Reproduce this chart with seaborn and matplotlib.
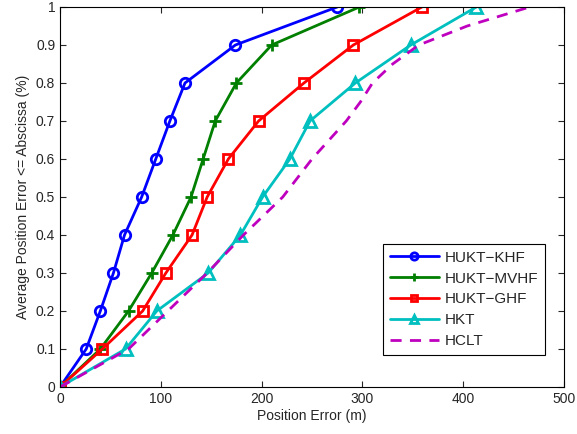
import numpy as np
import pandas as pd
import matplotlib
matplotlib.use("Agg")
import matplotlib.pyplot as plt
import seaborn as sns

levels = [0, 0.1, 0.2, 0.3, 0.4, 0.5, 0.6, 0.7, 0.8, 0.9, 1.0]
khf = [0, 26, 40, 53, 64, 81, 95, 109, 124, 174, 275]
mvhf = [0, 40, 68, 91, 112, 130, 142, 154, 175, 210, 297]
ghf = [0, 42, 82, 105, 131, 146, 167, 197, 242, 291, 359]
hkt = [0, 65, 96, 147, 179, 201, 228, 248, 293, 348, 413]
hclt_y = [0, 0.1, 0.2, 0.3, 0.4, 0.5, 0.6, 0.7, 0.75, 0.8, 0.85, 0.9, 0.95, 1.0]
hclt_x = [0, 68, 107, 146, 182, 221, 250, 284, 298, 310, 330, 356, 404, 466]

sns.set_style("ticks")
plt.rcParams['font.family'] = ['Liberation Sans', 'DejaVu Sans']

fig = plt.figure(figsize=(5.77, 4.34), dpi=100)
ax = fig.add_axes([60/577, 1-387/434, 504/577, 380/434])

styles = [
    ("HUKT\u2212KHF", khf, levels, "#0000ff", "o", "none", 7.5, "-"),
    ("HUKT\u2212MVHF", mvhf, levels, "#007f00", "+", "#007f00", 8, "-"),
    ("HUKT\u2212GHF", ghf, levels, "#ff0000", "s", "none", 6.5, "-"),
    ("HKT", hkt, levels, "#00bfbf", "^", "none", 8.5, "-"),
    ("HCLT", hclt_x, hclt_y, "#bf00bf", None, None, 0, "--"),
]
for name, xs, ys, col, mk, mfc, ms, ls in styles:
    df = pd.DataFrame({"x": xs, "y": ys})
    kw = dict(marker=mk, markersize=ms, markerfacecolor=mfc, markeredgecolor=col,
              markeredgewidth=2) if mk else {}
    sns.lineplot(data=df, x="x", y="y", ax=ax, color=col, linewidth=2,
                 linestyle=ls, sort=False, label=name, **kw)
ax.lines[-1].set_dashes([4, 3])

ax.set_xlim(0, 500)
ax.set_ylim(0, 1)
ax.set_xticks(np.arange(0, 501, 100))
ax.set_yticks(np.arange(0, 1.01, 0.1))
ax.set_yticklabels(["0"] + [f"{v:.1f}" for v in np.arange(0.1, 0.95, 0.1)] + ["1"])
ax.tick_params(direction="in", top=True, right=True, labelsize=10, length=4, width=0.8)
for s in ax.spines.values():
    s.set_visible(True)
    s.set_linewidth(0.8)
    s.set_color("black")
ax.set_xlabel("Position Error (m)", fontsize=10, labelpad=2)
ax.set_ylabel("Average Position Error <= Abscissa (%)", fontsize=10, labelpad=4)
leg = ax.legend(loc="lower right", bbox_to_anchor=(0.963, 0.084), fontsize=11,
                fancybox=False, edgecolor="black", framealpha=1, handlelength=3.2,
                borderpad=0.45, labelspacing=0.45, handletextpad=0.4,
                markerscale=0.7, borderaxespad=0)
leg.get_frame().set_linewidth(0.8)

fig.savefig("out.png", dpi=100)
